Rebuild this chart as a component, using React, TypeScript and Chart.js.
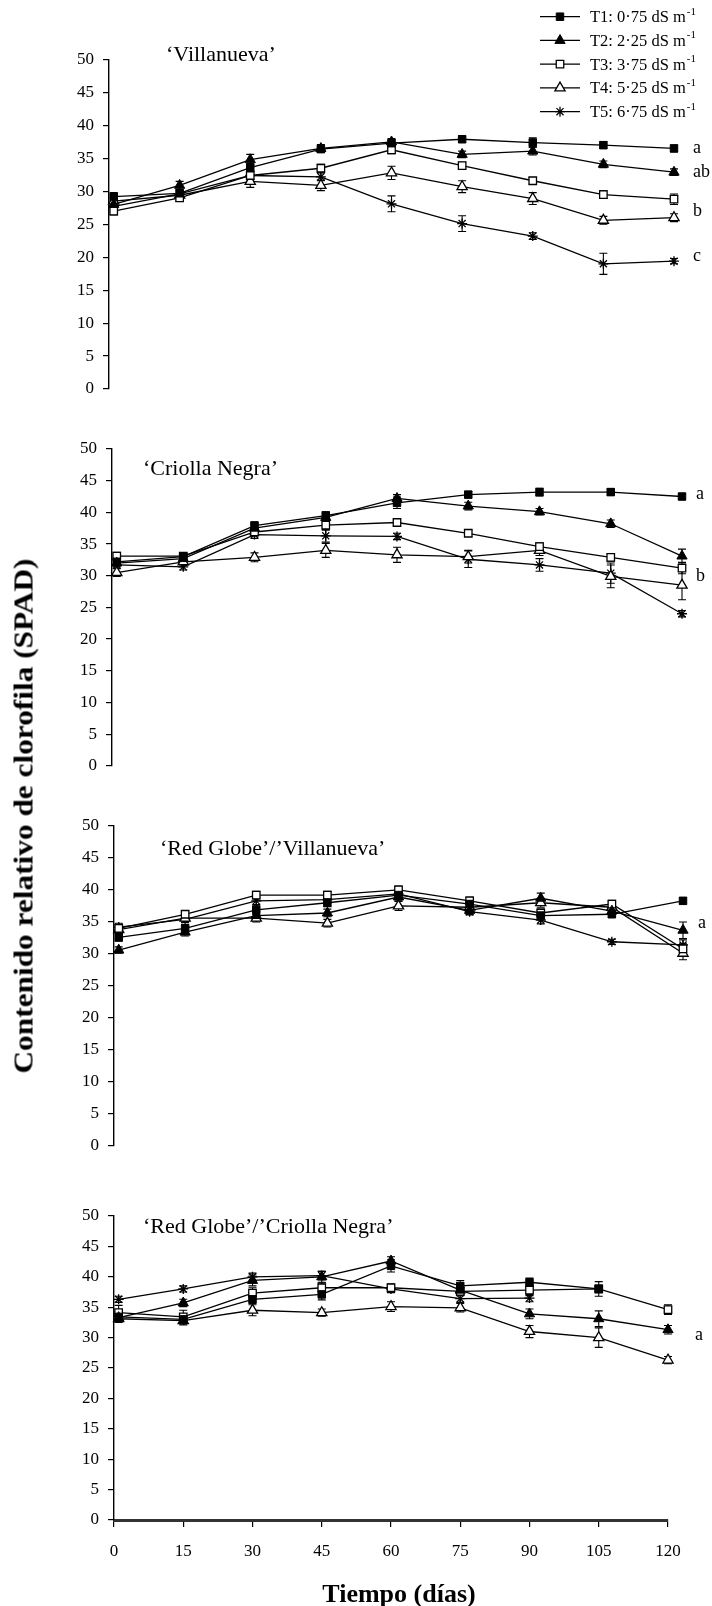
import React, { useEffect, useRef } from 'react';
import { Chart, registerables, PointElement } from 'chart.js';

Chart.register(...registerables);

// ---------- data ----------
const days = [1, 15, 30, 45, 60, 75, 90, 105, 120];
const xTickStep = 15;
const yTickStep = 5;
const yMin = 0;
const yMax = 50;

const treatmentLabels = ['T1: 0·75 dS m', 'T2: 2·25 dS m', 'T3: 3·75 dS m', 'T4: 5·25 dS m', 'T5: 6·75 dS m'];
const unitExponent = '-1';

// 'Villanueva'
const villT1 = [29.2, 29.7, 33.6, 36.4, 37.3, 37.9, 37.4, 37.0, 36.5];
const villT2 = [28.0, 30.9, 34.8, 36.5, 37.5, 35.6, 36.1, 34.1, 32.9];
const villT3 = [27.0, 29.0, 32.4, 33.5, 36.3, 33.9, 31.6, 29.5, 28.8];
const villT4 = [28.5, 29.4, 31.5, 30.9, 32.8, 30.7, 28.9, 25.6, 26.0];
const villT5 = [27.7, 29.6, 32.4, 32.2, 28.1, 25.1, 23.2, 19.0, 19.4];
const villErr1 = [0.6, 0.5, 0.6, 0.5, 0.5, 0.5, 0.7, 0.5, 0.5];
const villErr2 = [0.5, 0.6, 0.8, 0.6, 0.5, 0.5, 0.6, 0.5, 0.5];
const villErr3 = [0.6, 0.5, 0.6, 0.6, 0.6, 0.5, 0.5, 0.6, 0.8];
const villErr4 = [0.6, 0.5, 0.9, 0.8, 1.0, 0.9, 0.9, 0.6, 0.6];
const villErr5 = [0.6, 0.5, 0.7, 0.6, 1.2, 1.2, 0.5, 1.6, 0.4];
const villLetters = ['a', 'ab', 'b', 'c'];
const villLetterValues = [36.6, 32.9, 27.0, 20.1];

// 'Criolla Negra'
const crioT1 = [32.2, 33.0, 37.9, 39.5, 41.5, 42.8, 43.2, 43.2, 42.5];
const crioT2 = [32.0, 32.7, 37.5, 39.2, 42.2, 41.0, 40.1, 38.2, 33.1];
const crioT3 = [33.1, 33.1, 36.9, 38.0, 38.4, 36.7, 34.6, 32.9, 31.2];
const crioT4 = [30.5, 32.2, 32.9, 34.0, 33.3, 33.0, 34.0, 29.9, 28.5];
const crioT5 = [31.7, 31.4, 36.5, 36.3, 36.2, 32.6, 31.7, 30.4, 24.0];
const crioErr1 = [0.6, 0.5, 0.6, 0.6, 0.9, 0.5, 0.6, 0.5, 0.4];
const crioErr2 = [0.5, 0.6, 0.6, 0.6, 0.6, 0.6, 0.5, 0.6, 1.1];
const crioErr3 = [0.6, 0.5, 0.6, 0.8, 0.6, 0.5, 0.6, 0.6, 0.9];
const crioErr4 = [0.6, 0.5, 0.7, 1.1, 1.2, 1.0, 0.8, 1.8, 2.3];
const crioErr5 = [0.5, 0.5, 0.6, 1.0, 0.5, 1.3, 1.0, 1.6, 0.5];
const crioLetters = ['a', 'b'];
const crioLetterValues = [42.8, 29.9];

// 'Red Globe'/'Villanueva'
const rgvT1 = [32.6, 34.0, 36.9, 38.0, 39.2, 37.8, 36.0, 36.2, 38.3];
const rgvT2 = [30.6, 33.4, 36.0, 36.4, 38.9, 36.8, 38.7, 36.7, 33.7];
const rgvT3 = [34.0, 36.2, 39.2, 39.2, 40.0, 38.3, 36.4, 37.8, 30.8];
const rgvT4 = [33.8, 35.6, 35.6, 34.8, 37.5, 37.3, 38.0, 37.3, 30.1];
const rgvT5 = [34.2, 35.4, 38.3, 38.5, 39.4, 36.6, 35.3, 31.9, 31.4];
const rgvErr1 = [0.6, 0.6, 0.7, 0.6, 0.6, 0.5, 0.5, 0.5, 0.5];
const rgvErr2 = [0.5, 0.6, 0.6, 0.6, 0.6, 0.6, 0.8, 0.6, 1.3];
const rgvErr3 = [0.6, 0.6, 0.6, 0.6, 0.6, 0.6, 0.6, 0.6, 0.8];
const rgvErr4 = [0.6, 0.5, 0.6, 0.6, 0.7, 0.6, 0.7, 0.9, 1.0];
const rgvErr5 = [0.6, 0.5, 0.6, 0.6, 0.6, 0.5, 0.6, 0.4, 0.8];
const rgvLetters = ['a'];
const rgvLetterValues = [34.8];

// 'Red Globe'/'Criolla Negra'
const rgcT1 = [33.4, 33.0, 36.3, 37.1, 41.8, 38.5, 39.1, 38.0, null];
const rgcT2 = [33.3, 35.7, 39.4, 40.0, 42.6, 37.8, 33.9, 33.1, 31.3];
const rgcT3 = [34.1, 33.4, 37.3, 38.2, 38.2, 37.6, 37.8, 38.0, 34.6];
const rgcT4 = [33.1, 32.8, 34.5, 34.1, 35.1, 34.9, 31.0, 30.0, 26.3];
const rgcT5 = [36.3, 38.0, 40.0, 40.2, 38.0, 36.4, 36.5, null, null];
const rgcErr1 = [0.6, 0.6, 0.7, 0.9, 1.0, 0.9, 0.7, 0.6, null];
const rgcErr2 = [0.5, 0.6, 0.9, 0.9, 0.7, 0.7, 0.8, 1.3, 0.7];
const rgcErr3 = [1.2, 1.1, 0.9, 0.8, 0.6, 0.7, 0.9, 1.2, 0.8];
const rgcErr4 = [0.6, 0.7, 0.9, 0.6, 0.8, 0.7, 1.0, 1.6, 0.6];
const rgcErr5 = [0.5, 0.5, 0.6, 0.7, 0.6, 0.6, 0.6, null, null];
const rgcLetters = ['a'];
const rgcLetterValues = [30.4];

const xAxisTitle = 'Tiempo (días)';
const yAxisTitle = 'Contenido relativo de clorofila (SPAD)';

// ---------- styles / layout ----------
const FONT = '"Liberation Serif", "Times New Roman", "DejaVu Serif", serif';

const markerStyles = [
  { pointStyle: 'rect', radius: 5.3, backgroundColor: '#000', borderColor: '#000', borderWidth: 1 },
  { pointStyle: 'triangle', radius: 5.9, backgroundColor: '#000', borderColor: '#000', borderWidth: 1 },
  { pointStyle: 'rect', radius: 5.3, backgroundColor: '#fff', borderColor: '#000', borderWidth: 1.3 },
  { pointStyle: 'triangle', radius: 5.9, backgroundColor: '#fff', borderColor: '#000', borderWidth: 1.3 },
  { pointStyle: 'star', radius: 5, backgroundColor: '#000', borderColor: '#000', borderWidth: 1.3 },
];

type Panel = {
  title: string;
  titleX: number;
  titleY: number;
  canvasTop: number;
  canvasHeight: number;
  left: number;
  right: number;
  top: number;
  bottom: number;
  series: (number | null)[][];
  errors: (number | null)[][];
  letters: string[];
  letterValues: number[];
  letterOffset: number;
  showX: boolean;
  legend: boolean;
};

const panels: Panel[] = [
  {
    title: '‘Villanueva’', titleX: 166, titleY: 55,
    canvasTop: 0, canvasHeight: 410, left: 109, right: 674, top: 59.5, bottom: 389,
    series: [villT1, villT2, villT3, villT4, villT5],
    errors: [villErr1, villErr2, villErr3, villErr4, villErr5],
    letters: villLetters, letterValues: villLetterValues, letterOffset: 19,
    showX: false, legend: true,
  },
  {
    title: '‘Criolla Negra’', titleX: 143, titleY: 469,
    canvasTop: 410, canvasHeight: 375, left: 112, right: 682, top: 449, bottom: 773,
    series: [crioT1, crioT2, crioT3, crioT4, crioT5],
    errors: [crioErr1, crioErr2, crioErr3, crioErr4, crioErr5],
    letters: crioLetters, letterValues: crioLetterValues, letterOffset: 14,
    showX: false, legend: false,
  },
  {
    title: '‘Red Globe’/’Villanueva’', titleX: 160, titleY: 849,
    canvasTop: 785, canvasHeight: 380, left: 114, right: 683, top: 826, bottom: 1155,
    series: [rgvT1, rgvT2, rgvT3, rgvT4, rgvT5],
    errors: [rgvErr1, rgvErr2, rgvErr3, rgvErr4, rgvErr5],
    letters: rgvLetters, letterValues: rgvLetterValues, letterOffset: 15,
    showX: false, legend: false,
  },
  {
    title: '‘Red Globe’/’Criolla Negra’', titleX: 143, titleY: 1227,
    canvasTop: 1165, canvasHeight: 441, left: 114, right: 668, top: 1216, bottom: 1520,
    series: [rgcT1, rgcT2, rgcT3, rgcT4, rgcT5],
    errors: [rgcErr1, rgcErr2, rgcErr3, rgcErr4, rgcErr5],
    letters: rgcLetters, letterValues: rgcLetterValues, letterOffset: 27,
    showX: true, legend: false,
  },
];

function makeConfig(p: Panel): any {
  const T = p.canvasTop;
  const H = p.canvasHeight;
  const datasets = p.series.map((vals, si) => {
    const m = markerStyles[si];
    return {
      label: treatmentLabels[si],
      data: vals.map((v, i) => ({ x: days[i], y: v })),
      borderColor: '#000',
      borderWidth: 1.3,
      fill: false,
      tension: 0,
      clip: false,
      pointStyle: m.pointStyle,
      pointRadius: m.radius,
      pointBackgroundColor: m.backgroundColor,
      pointBorderColor: m.borderColor,
      pointBorderWidth: m.borderWidth,
      spanGaps: false,
    };
  });

  const decor = {
    id: 'decor' + T,
    beforeDatasetsDraw(chart: any) {
      const ctx = chart.ctx;
      const xs = chart.scales.x;
      const ys = chart.scales.y;
      ctx.save();
      ctx.strokeStyle = '#000';
      ctx.lineWidth = 1.1;
      p.errors.forEach((errs, si) => {
        const vals = p.series[si];
        errs.forEach((e, i) => {
          const v = vals[i];
          if (v == null || e == null) return;
          const x = xs.getPixelForValue(days[i]);
          const y1 = ys.getPixelForValue(v - e);
          const y2 = ys.getPixelForValue(v + e);
          ctx.beginPath();
          ctx.moveTo(x, y1); ctx.lineTo(x, y2);
          ctx.moveTo(x - 4, y1); ctx.lineTo(x + 4, y1);
          ctx.moveTo(x - 4, y2); ctx.lineTo(x + 4, y2);
          ctx.stroke();
        });
      });
      ctx.restore();
    },
    afterDraw(chart: any) {
      const ctx = chart.ctx;
      const xs = chart.scales.x;
      const ys = chart.scales.y;
      ctx.save();
      ctx.fillStyle = '#000';
      ctx.textBaseline = 'middle';
      ctx.textAlign = 'left';
      // panel title
      ctx.font = `22px ${FONT}`;
      ctx.fillText(p.title, p.titleX, p.titleY - T);
      // significance letters
      ctx.font = `18px ${FONT}`;
      const lx = xs.getPixelForValue(days[days.length - 1]) + p.letterOffset;
      p.letters.forEach((l, i) => {
        ctx.fillText(l, lx, ys.getPixelForValue(p.letterValues[i]));
      });
      // x axis title (bottom panel only)
      if (p.showX) {
        ctx.font = `bold 26px ${FONT}`;
        ctx.textAlign = 'center';
        ctx.fillText(xAxisTitle, 399, 1595 - T);
        ctx.textAlign = 'left';
      }
      // legend
      if (p.legend) {
        treatmentLabels.forEach((lab, i) => {
          const y = 16.7 + i * 23.75;
          ctx.strokeStyle = '#000';
          ctx.lineWidth = 1.3;
          ctx.beginPath();
          ctx.moveTo(540, y); ctx.lineTo(580, y);
          ctx.stroke();
          const m = markerStyles[i];
          const pt: any = new (PointElement as any)({
            x: 560, y,
            options: {
              pointStyle: m.pointStyle, radius: m.radius, rotation: 0,
              borderWidth: m.borderWidth, borderColor: m.borderColor,
              backgroundColor: m.backgroundColor, hitRadius: 0, hoverRadius: 0,
            },
          });
          pt.draw(ctx);
          ctx.fillStyle = '#000';
          ctx.font = `16.5px ${FONT}`;
          ctx.textBaseline = 'middle';
          ctx.fillText(lab, 590, y + 1);
          const w = ctx.measureText(lab).width;
          ctx.font = `11px ${FONT}`;
          ctx.fillText(unitExponent, 590 + w + 1, y - 5);
        });
      }
      ctx.restore();
    },
  };

  return {
    type: 'line',
    data: { datasets },
    options: {
      animation: false,
      responsive: false,
      events: [],
      layout: {
        padding: {
          left: 0,
          top: p.top - T,
          right: 712 - p.right,
          bottom: p.showX ? 0 : T + H - p.bottom,
        },
      },
      plugins: { legend: { display: false }, tooltip: { enabled: false }, title: { display: false } },
      scales: {
        x: {
          type: 'linear',
          min: 0,
          max: 120,
          display: p.showX,
          ticks: { stepSize: xTickStep, font: { size: 17, family: FONT }, color: '#000', padding: 14, maxRotation: 0 },
          grid: { drawOnChartArea: false, drawTicks: true, tickLength: 7, color: '#000', lineWidth: 1.2 },
          border: { display: true, color: '#333', width: 3 },
          title: { display: false },
          afterFit: (s: any) => { if (p.showX) s.height = T + H - p.bottom; },
        },
        y: {
          type: 'linear',
          min: yMin,
          max: yMax,
          ticks: { stepSize: yTickStep, font: { size: 17, family: FONT }, color: '#000', padding: 9 },
          grid: { drawOnChartArea: false, drawTicks: true, tickLength: 6, color: '#000', lineWidth: 1.2 },
          border: { display: true, color: '#000', width: 1.4 },
          afterFit: (s: any) => { s.width = p.left; },
        },
      },
    },
    plugins: [decor],
  };
}

function PanelChart({ p }: { p: Panel }) {
  const ref = useRef<HTMLCanvasElement | null>(null);
  useEffect(() => {
    if (!ref.current) return;
    const chart = new Chart(ref.current, makeConfig(p));
    return () => chart.destroy();
  }, [p]);
  return (
    <div style={{ position: 'absolute', left: 0, top: p.canvasTop, width: 712, height: p.canvasHeight }}>
      <canvas ref={ref} width={712} height={p.canvasHeight} style={{ width: 712, height: p.canvasHeight, display: 'block' }} />
    </div>
  );
}

export default function App() {
  useEffect(() => {
    Chart.defaults.font.family = FONT;
    Chart.defaults.color = '#000';
  }, []);
  return (
    <div style={{ position: 'absolute', left: 0, top: 0, width: 712, height: 1606, background: '#fff', overflow: 'hidden' }}>
      {panels.map((p, i) => (
        <PanelChart key={i} p={p} />
      ))}
      <div
        style={{
          position: 'absolute',
          left: 24,
          top: 816,
          transform: 'translate(-50%, -50%) rotate(-90deg) scaleX(1.16)',
          whiteSpace: 'nowrap',
          fontFamily: FONT,
          fontWeight: 'bold',
          fontSize: 27,
          color: '#000',
          lineHeight: 1,
        }}
      >
        {yAxisTitle}
      </div>
    </div>
  );
}
